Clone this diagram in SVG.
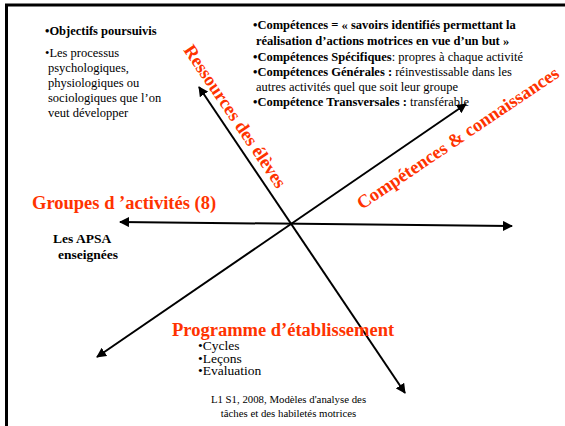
<svg xmlns="http://www.w3.org/2000/svg" width="565" height="426" viewBox="0 0 565 426">
<style>
text{font-family:"Liberation Serif","Times New Roman",serif;fill:#000}
.b{font-weight:bold}
.red{fill:#ff3300;font-weight:bold;font-size:18.5px}
.body{font-size:12.5px}
.ax{stroke:#000;stroke-width:2;fill:none;marker-start:url(#ah);marker-end:url(#ah)}
</style>
<defs>
<marker id="ah" viewBox="0 0 10 10" refX="9" refY="5" markerWidth="5" markerHeight="5" orient="auto-start-reverse" markerUnits="strokeWidth">
<path d="M0,0 L10,5 L0,10 z" fill="#000"/>
</marker>
</defs>
<rect width="565" height="426" fill="#fff"/>
<path d="M6.5,426 V5 H565" fill="none" stroke="#000" stroke-width="3"/>
<g id="connectors">
<line class="ax" x1="120" y1="222" x2="512" y2="226"/>
<line class="ax" x1="199" y1="87" x2="405" y2="393"/>
<line class="ax" x1="97" y1="357" x2="466" y2="104"/>
</g>
<g id="objectifs" class="body">
<text x="45" y="35" class="b">•Objectifs poursuivis</text>
<text x="45" y="57.3">•Les processus</text>
<text x="48" y="72.3">psychologiques,</text>
<text x="48" y="87.3">physiologiques ou</text>
<text x="48" y="102.3">sociologiques que l’on</text>
<text x="48" y="117.3">veut développer</text>
</g>
<g id="competences-def" class="body">
<text x="253" y="29.3" class="b">•Compétences = « savoirs identifiés permettant la</text>
<text x="256" y="45" class="b">réalisation d’actions motrices en vue d’un but »</text>
<text x="253" y="60.7"><tspan class="b">•Compétences Spécifiques</tspan>: propres à chaque activité</text>
<text x="253" y="76"><tspan class="b">•Compétences Générales :</tspan> réinvestissable dans les</text>
<text x="256" y="90.7">autres activités quel que soit leur groupe</text>
<text x="253" y="105.5"><tspan class="b">•Compétence Transversales :</tspan> transférable</text>
</g>
<g id="ressources">
<text class="red" transform="translate(183,50) rotate(56)">Ressources des élèves</text>
</g>
<g id="competences-connaissances">
<text class="red" transform="translate(362,210) rotate(-34)">Compétences &amp; connaissances</text>
</g>
<g id="groupes">
<text class="red" x="32" y="209">Groupes d ’activités (8)</text>
</g>
<g id="apsa">
<text class="b" x="53" y="243" font-size="13.5">Les APSA</text>
<text class="b" x="58" y="259" font-size="13.5">enseignées</text>
</g>
<g id="programme">
<text class="red" x="172" y="336">Programme d’établissement</text>
<text x="198" y="350" font-size="13.5">•Cycles</text>
<text x="198" y="362.5" font-size="13.5">•Leçons</text>
<text x="198" y="375" font-size="13.5">•Evaluation</text>
</g>
<g id="footer" font-size="10.8">
<text x="288.5" y="402.5" text-anchor="middle">L1 S1, 2008, Modèles d'analyse des</text>
<text x="288.5" y="416.5" text-anchor="middle">tâches et des habiletés motrices</text>
</g>
</svg>
